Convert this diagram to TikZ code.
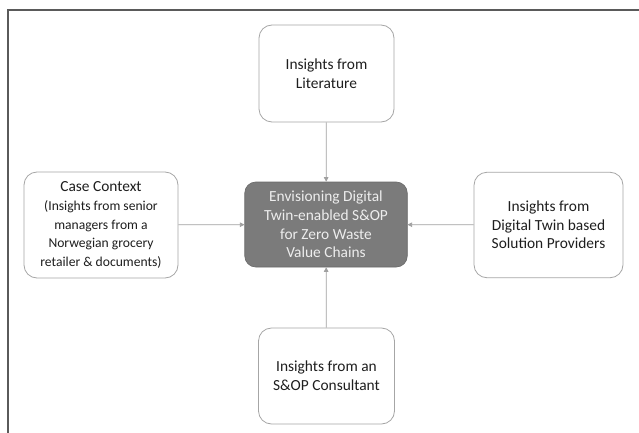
\documentclass[tikz,border=0pt]{standalone}
\usepackage{fontspec}
\setmainfont{Carlito}
\usetikzlibrary{arrows.meta}
\definecolor{boxline}{HTML}{A6A6A6}
\definecolor{arrowc}{HTML}{A0A0A0}
\definecolor{centerfill}{HTML}{7B7B7B}
\definecolor{centertext}{HTML}{EDEDED}
\definecolor{framec}{HTML}{5A5A5A}
\definecolor{textc}{HTML}{1E1E1E}
\newcommand{\smallcase}{\fontsize{13.6}{16.6}\selectfont}
\begin{document}
\begin{tikzpicture}[x=1pt,y=-1pt,
  sidebox/.style={draw=boxline, line width=0.8pt, rounded corners=13pt, fill=white,
    align=center, text=textc, inner sep=0pt,
    font=\fontsize{15.4}{18.7}\selectfont},
  centerbox/.style={draw=centerfill!85!black, line width=0.6pt, rounded corners=11pt, fill=centerfill,
    align=center, text=centertext, inner sep=0pt,
    font=\fontsize{15.4}{18.7}\selectfont},
  link/.style={draw=arrowc, line width=0.7pt, -{Triangle[length=4.5pt,width=4.5pt]}}]
\useasboundingbox (0,0) rectangle (639,433);
\fill[white] (0,0) rectangle (639,433);
% frame
\draw[framec, line width=1.5pt] (8,433) -- (8,10) -- (639,10);
% nodes
\node[centerbox, minimum width=162.5pt, minimum height=85pt] (c) at (326,224.5)
  {Envisioning Digital\\Twin-enabled S\&OP\\for Zero Waste\\Value Chains};
\node[sidebox, minimum width=135pt, minimum height=97pt] (t) at (326.5,73.5)
  {Insights from\\Literature};
\node[sidebox, minimum width=154pt, minimum height=106pt] (l) at (101,225)
  {Case Context\\\smallcase (Insights from senior\\\smallcase managers from a\\\smallcase Norwegian grocery\\\smallcase retailer \& documents)};
\node[sidebox, minimum width=149pt, minimum height=105.5pt] (r) at (548.5,225)
  {Insights from\\Digital Twin based\\Solution Providers};
\node[sidebox, minimum width=136pt, minimum height=96pt] (b) at (326.5,376)
  {Insights from an\\S\&OP Consultant};
% connectors
\draw[link] (t) -- (c);
\draw[link] (l) -- (c);
\draw[link] (r) -- (c);
\draw[link] (b) -- (c);
\end{tikzpicture}
\end{document}
